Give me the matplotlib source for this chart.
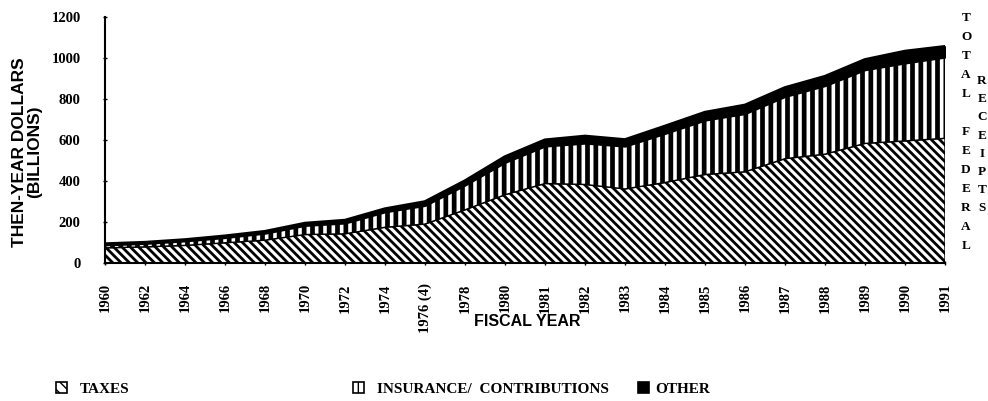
import matplotlib
matplotlib.use("Agg")
import matplotlib.pyplot as plt
import numpy as np
from matplotlib.patches import Patch

# Fiscal year categories (equally spaced on the chart)
year_labels = ['1960', '1962', '1964', '1966', '1968', '1970', '1972', '1974',
               '1976 (4)', '1978', '1980', '1981', '1982', '1983', '1984',
               '1985', '1986', '1987', '1988', '1989', '1990', '1991']

# Receipts, then-year dollars (billions)
taxes = [73.9, 78.6, 85.9, 98.6, 111.5, 138.9, 142.4, 174.4, 190.0, 259.4,
         333.0, 387.8, 383.2, 361.2, 392.7, 431.8, 445.0, 509.0, 530.9,
         583.4, 595.7, 608.3]
insurance = [14.7, 17.0, 22.0, 25.5, 33.9, 44.4, 52.6, 75.1, 90.8, 121.0,
             157.8, 182.7, 201.5, 209.0, 239.4, 265.2, 283.9, 303.3, 334.3,
             359.4, 380.0, 396.0]
other = [3.9, 4.0, 4.7, 6.7, 7.6, 9.5, 12.3, 13.7, 17.2, 19.3,
         26.3, 28.7, 33.0, 30.3, 34.4, 37.0, 40.2, 42.0, 44.0,
         48.3, 56.3, 50.8]

y_ticks = [0, 200, 400, 600, 800, 1000, 1200]

SERIF = 'Liberation Serif'
SANS = 'Liberation Sans'
TAX_HATCH = '\\\\\\\\'
INS_HATCH = '||'
TAX_HLW = 2.0
INS_HLW = 3.4

fig = plt.figure(figsize=(9.88, 4.01), dpi=100)
ax = fig.add_axes([105 / 988, 1 - 263 / 401, 840 / 988, 246 / 401])

x = np.arange(len(year_labels))
t_top = np.array(taxes)
i_top = t_top + np.array(insurance)
o_top = i_top + np.array(other)


def hatched_fill(y0, y1, hatch, hlw):
    with plt.rc_context({'hatch.linewidth': hlw}):
        coll = ax.fill_between(x, y0, y1, facecolor='white', edgecolor='black',
                               hatch=hatch, linewidth=1.0, zorder=2)
    if hasattr(coll, 'set_hatch_linewidth'):
        coll.set_hatch_linewidth(hlw)
    return coll


hatched_fill(0, t_top, TAX_HATCH, TAX_HLW)
hatched_fill(t_top, i_top, INS_HATCH, INS_HLW)
ax.fill_between(x, i_top, o_top, facecolor='black', edgecolor='black',
                linewidth=1.5, zorder=3)
ax.plot(x, o_top, color='black', linewidth=2.5, zorder=4)

ax.set_xlim(0, len(year_labels) - 1)
ax.set_ylim(0, 1200)
ax.set_yticks(y_ticks)
ax.set_yticklabels([str(v) for v in y_ticks], fontfamily=SERIF,
                   fontweight='bold', fontsize=10.5)
ax.set_xticks(x)
ax.set_xticklabels(year_labels, rotation=90, fontfamily=SERIF,
                   fontweight='bold', fontsize=10.5, va='top', ha='center')
ax.tick_params(axis='y', length=3, direction='inout', width=1, pad=16)
ax.tick_params(axis='x', length=3, direction='inout', width=1, pad=13)

for side in ('top', 'right'):
    ax.spines[side].set_visible(False)
for side in ('left', 'bottom'):
    ax.spines[side].set_linewidth(1.5)

fig.text(27 / 988, 1 - 152 / 401, 'THEN-YEAR DOLLARS\n(BILLIONS)', rotation=90,
         ha='center', va='center', multialignment='center', fontfamily=SANS,
         fontweight='bold', fontsize=12.5, linespacing=1.05)
fig.text(527 / 988, 1 - 322 / 401, 'FISCAL YEAR', ha='center', va='center',
         fontfamily=SANS, fontweight='bold', fontsize=11.5)

# Vertical lettering on the right
for k, ch in enumerate('TOTAL FEDERAL'):
    fig.text(966 / 988, 1 - (18 + k * 19.0) / 401, ch, ha='center', va='center',
             fontfamily=SERIF, fontweight='bold', fontsize=9.5)
for k, ch in enumerate('RECEIPTS'):
    fig.text(982 / 988, 1 - (81 + k * 18.2) / 401, ch, ha='center', va='center',
             fontfamily=SERIF, fontweight='bold', fontsize=9.5)

# Legend entries along the bottom
legend_items = [
    ('TAXES', '\\\\\\', 'white', 56, 0.8),
    ('INSURANCE/  CONTRIBUTIONS', '|', 'white', 353, 0.8),
    ('OTHER', None, 'black', 638, 0.35),
]
for label, hatch, fc, xpos, textpad in legend_items:
    with plt.rc_context({'hatch.linewidth': 2.5}):
        handle = Patch(facecolor=fc, edgecolor='black', hatch=hatch, linewidth=1.2)
    if hasattr(handle, 'set_hatch_linewidth'):
        handle.set_hatch_linewidth(2.5)
    fig.legend(handles=[handle], labels=[label], loc='center left',
               bbox_to_anchor=(xpos / 988, 1 - 389 / 401), frameon=False,
               borderpad=0, borderaxespad=0, handlelength=0.75,
               handleheight=0.75, handletextpad=textpad,
               prop={'family': SERIF, 'weight': 'bold', 'size': 11})

fig.savefig('out.png', dpi=100)
